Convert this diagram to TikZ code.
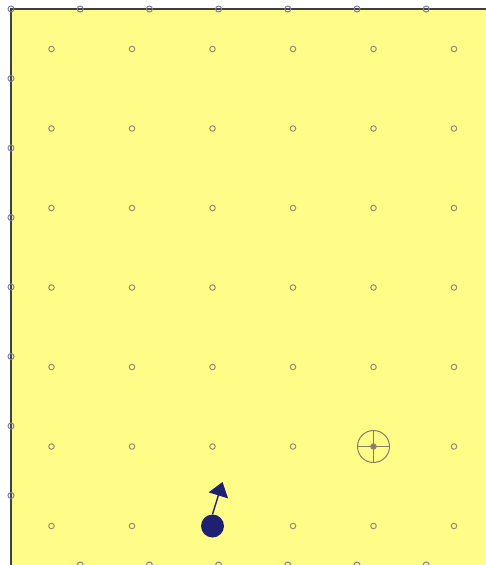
\documentclass[tikz,border=0pt]{standalone}
\usepackage{xcolor}
\usepackage{tikz}
\usetikzlibrary{arrows.meta, positioning}

\definecolor{field}{RGB}{255,252,136}
\definecolor{navy}{RGB}{30,32,112}
\definecolor{dotgray}{RGB}{150,140,115}
\definecolor{tickblue}{RGB}{125,125,165}

\begin{document}
\begin{tikzpicture}[
  x=1pt, y=-1pt,
  gridpt/.style={circle, draw=dotgray, line width=1pt, inner sep=0pt, minimum size=5.5pt},
  tick/.style={circle, draw=tickblue, line width=1pt, inner sep=0pt, minimum size=6pt},
  robot/.style={circle, fill=navy, inner sep=0pt, minimum size=23pt},
  heading/.style={-{Triangle[length=14pt, width=20pt]}, draw=navy, line width=1.4pt},
  goal/.style={circle, draw=dotgray!90!black, line width=1pt, inner sep=0pt, minimum size=32pt}
]
\useasboundingbox (0,0) rectangle (486,565);
\fill[field] (11,9) rectangle (486,565);
\draw[black!75, line width=1.6pt] (11,565) -- (11,9) -- (486,9);

% ruler ticks
\foreach \i in {0,...,6} {
  \node[tick] (top\i) at ({11+69.2*\i},9) {};
}
\foreach \i in {1,...,6} {
  \node[tick] (bot\i) at ({11+69.2*\i},565) {};
}
\foreach \j in {1,...,7} {
  \node[tick] (left\j) at (11,{9+69.5*\j}) {};
}

% grid points
\foreach \i in {0,...,5} {
  \foreach \j in {0,...,6} {
    \node[gridpt] (g\i\j) at ({51.5+80.5*\i},{49+79.5*\j}) {};
  }
}

% target
\node[goal] (target) at (g45) {};
\fill[dotgray!90!black] (target) circle (2.5pt);
\draw[dotgray!90!black, line width=1pt] (target.north) -- (target.south);
\draw[dotgray!90!black, line width=1pt] (target.west) -- (target.east);

% robot with heading
\node[robot] (bot) at (g26) {};
\coordinate (dir) at (222.5,482);
\draw[heading] (bot.north) -- (dir);
\end{tikzpicture}
\end{document}
